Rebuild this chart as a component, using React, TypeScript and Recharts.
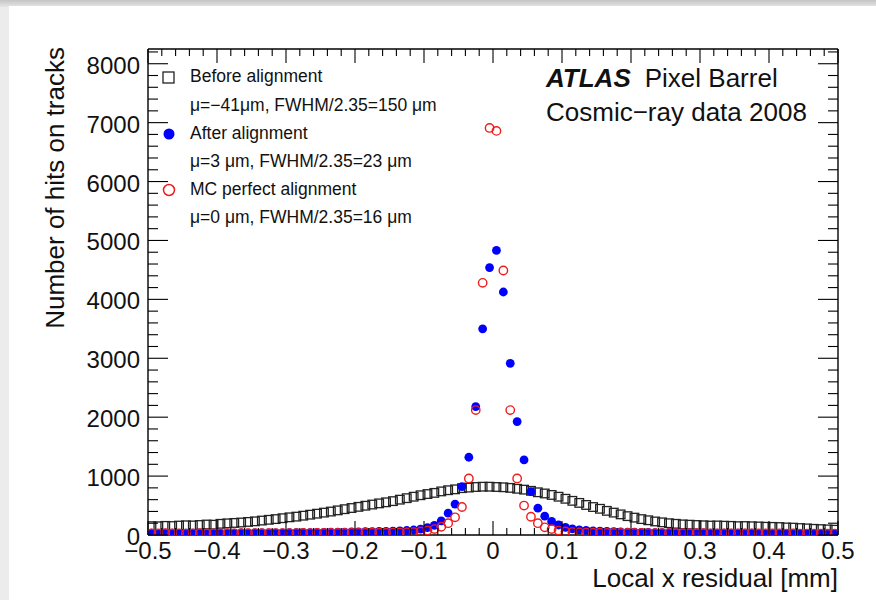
import React from 'react';
import { ScatterChart, Scatter, XAxis, YAxis } from 'recharts';

// ---- data (bin centres in mm, counts per bin) ----
const binCenters = [
  -0.495, -0.485, -0.475, -0.465, -0.455, -0.445, -0.435, -0.425, -0.415, -0.405,
  -0.395, -0.385, -0.375, -0.365, -0.355, -0.345, -0.335, -0.325, -0.315, -0.305,
  -0.295, -0.285, -0.275, -0.265, -0.255, -0.245, -0.235, -0.225, -0.215, -0.205,
  -0.195, -0.185, -0.175, -0.165, -0.155, -0.145, -0.135, -0.125, -0.115, -0.105,
  -0.095, -0.085, -0.075, -0.065, -0.055, -0.045, -0.035, -0.025, -0.015, -0.005,
  0.005, 0.015, 0.025, 0.035, 0.045, 0.055, 0.065, 0.075, 0.085, 0.095,
  0.105, 0.115, 0.125, 0.135, 0.145, 0.155, 0.165, 0.175, 0.185, 0.195,
  0.205, 0.215, 0.225, 0.235, 0.245, 0.255, 0.265, 0.275, 0.285, 0.295,
  0.305, 0.315, 0.325, 0.335, 0.345, 0.355, 0.365, 0.375, 0.385, 0.395,
  0.405, 0.415, 0.425, 0.435, 0.445, 0.455, 0.465, 0.475, 0.485, 0.495,
];

const beforeCounts = [
  150, 148, 155, 152, 160, 165, 162, 170, 178, 175,
  190, 198, 205, 212, 222, 232, 245, 258, 270, 285,
  300, 312, 328, 345, 362, 380, 398, 418, 438, 458,
  478, 497, 517, 537, 555, 575, 600, 625, 650, 675,
  695, 715, 740, 760, 775, 795, 805, 815, 820, 820,
  815, 810, 800, 785, 770, 750, 725, 705, 680, 650,
  615, 580, 545, 510, 475, 445, 410, 380, 350, 320,
  295, 270, 250, 230, 215, 200, 190, 180, 175, 170,
  165, 160, 162, 158, 155, 150, 152, 148, 145, 140,
  138, 135, 128, 125, 118, 112, 105, 100, 95, 90,
];

const afterCounts = [
  30, 28, 32, 30, 29, 31, 30, 33, 30, 32,
  31, 33, 32, 34, 33, 35, 34, 36, 35, 37,
  38, 40, 40, 42, 43, 45, 47, 48, 50, 52,
  54, 56, 58, 60, 63, 66, 70, 76, 85, 100,
  125, 165, 240, 370, 525, 820, 1320, 2180, 3500, 4540,
  4830, 4125, 2915, 1925, 1275, 735, 455, 320, 230, 170,
  130, 105, 88, 78, 70, 64, 60, 56, 53, 50,
  48, 46, 44, 42, 40, 39, 38, 37, 36, 35,
  34, 33, 33, 32, 31, 31, 30, 30, 29, 29,
  28, 28, 27, 27, 26, 26, 25, 25, 24, 24,
];

const mcCounts = [
  28, 26, 30, 27, 29, 25, 28, 30, 27, 29,
  28, 30, 29, 31, 30, 32, 31, 30, 33, 32,
  32, 33, 34, 33, 35, 34, 35, 36, 35, 37,
  37, 38, 38, 39, 40, 41, 42, 45, 50, 60,
  75, 100, 140, 200, 300, 475, 960, 2120, 4280, 6910,
  6860, 4490, 2120, 960, 500, 310, 200, 130, 100, 75,
  60, 50, 45, 41, 39, 38, 37, 36, 35, 35,
  34, 34, 33, 33, 32, 32, 31, 31, 30, 30,
  30, 29, 29, 28, 29, 28, 27, 28, 27, 26,
  27, 26, 25, 26, 25, 24, 25, 24, 23, 24,
];

// ---- ticks ----
const xMajorTicks = [-0.5, -0.4, -0.3, -0.2, -0.1, 0, 0.1, 0.2, 0.3, 0.4, 0.5];
const xTickLabels = ['\u22120.5', '\u22120.4', '\u22120.3', '\u22120.2', '\u22120.1', '0', '0.1', '0.2', '0.3', '0.4', '0.5'];
const xMinorTicks = [
  -0.48, -0.46, -0.44, -0.42, -0.38, -0.36, -0.34, -0.32, -0.28, -0.26, -0.24, -0.22,
  -0.18, -0.16, -0.14, -0.12, -0.08, -0.06, -0.04, -0.02, 0.02, 0.04, 0.06, 0.08,
  0.12, 0.14, 0.16, 0.18, 0.22, 0.24, 0.26, 0.28, 0.32, 0.34, 0.36, 0.38,
  0.42, 0.44, 0.46, 0.48,
];
const yMajorTicks = [0, 1000, 2000, 3000, 4000, 5000, 6000, 7000, 8000];
const yTickLabels = ['0', '1000', '2000', '3000', '4000', '5000', '6000', '7000', '8000'];
const yMinorTicks = [
  200, 400, 600, 800, 1200, 1400, 1600, 1800, 2200, 2400, 2600, 2800,
  3200, 3400, 3600, 3800, 4200, 4400, 4600, 4800, 5200, 5400, 5600, 5800,
  6200, 6400, 6600, 6800, 7200, 7400, 7600, 7800, 8200,
];

const xAllTicks = [...xMajorTicks, ...xMinorTicks].sort((a, b) => a - b);
const yAllTicks = [...yMajorTicks, ...yMinorTicks].sort((a, b) => a - b);

const beforeData = binCenters.map((x, i) => ({ x, y: beforeCounts[i] }));
const afterData = binCenters.map((x, i) => ({ x, y: afterCounts[i] }));
const mcData = binCenters.map((x, i) => ({ x, y: mcCounts[i] }));

const FONT = '"Liberation Sans", Arial, Helvetica, sans-serif';
const TXT = '#111';

const majorIndex = (arr: number[], v: number) => arr.findIndex((m) => Math.abs(m - v) < 1e-9);

const BottomTick = (props: any) => {
  const { x, y, payload } = props;
  const idx = majorIndex(xMajorTicks, payload.value);
  const major = idx >= 0;
  return (
    <g>
      <line x1={x} x2={x} y1={y} y2={y - (major ? 14 : 7)} stroke="#000" strokeWidth={1.1} />
      {major && (
        <text x={x} y={y + 24} textAnchor="middle" fontSize={24} fontFamily={FONT} fill={TXT}>
          {xTickLabels[idx]}
        </text>
      )}
    </g>
  );
};

const TopTick = (props: any) => {
  const { x, y, payload } = props;
  const major = majorIndex(xMajorTicks, payload.value) >= 0;
  return <line x1={x} x2={x} y1={y} y2={y + (major ? 14 : 7)} stroke="#000" strokeWidth={1.1} />;
};

const LeftTick = (props: any) => {
  const { x, y, payload } = props;
  const idx = majorIndex(yMajorTicks, payload.value);
  const major = idx >= 0;
  return (
    <g>
      <line x1={x} x2={x + (major ? 20 : 10)} y1={y} y2={y} stroke="#000" strokeWidth={1.1} />
      {major && (
        <text x={x - 8} y={y + 10} textAnchor="end" fontSize={24} fontFamily={FONT} fill={TXT}>
          {yTickLabels[idx]}
        </text>
      )}
    </g>
  );
};

const RightTick = (props: any) => {
  const { x, y, payload } = props;
  const major = majorIndex(yMajorTicks, payload.value) >= 0;
  return <line x1={x} x2={x - (major ? 20 : 10)} y1={y} y2={y} stroke="#000" strokeWidth={1.1} />;
};

const SquareShape = (props: any) => {
  const { cx, cy } = props;
  if (cx == null || cy == null) return null;
  return <rect x={cx - 4.3} y={cy - 4.3} width={8.6} height={8.6} fill="none" stroke="#222" strokeWidth={1.3} />;
};
const DotShape = (props: any) => {
  const { cx, cy } = props;
  if (cx == null || cy == null) return null;
  return <circle cx={cx} cy={cy} r={4.4} fill="#0000ff" stroke="none" />;
};
const RingShape = (props: any) => {
  const { cx, cy } = props;
  if (cx == null || cy == null) return null;
  return <circle cx={cx} cy={cy} r={4.2} fill="none" stroke="#ee1c1c" strokeWidth={1.4} />;
};

const axisLine = { stroke: '#000', strokeWidth: 1.4 };

export default function App() {
  return (
    <div style={{ position: 'absolute', left: 0, top: 0, width: 876, height: 600, background: '#ececec', overflow: 'hidden' }}>
      <div style={{ position: 'absolute', left: 0, top: 0, width: 876, height: 7, background: 'linear-gradient(#c4c4c4, #e6e6e6)' }} />
      <div style={{ position: 'absolute', left: 9, top: 6, width: 867, height: 594, background: '#fff' }} />
      <div style={{ position: 'absolute', left: 0, top: 0 }}>
        <ScatterChart width={876} height={600} margin={{ top: 48, right: 37, bottom: 64, left: 147 }}>
          <XAxis
            xAxisId="bottom"
            type="number"
            dataKey="x"
            domain={[-0.5, 0.5]}
            allowDataOverflow
            ticks={xAllTicks}
            interval={0}
            height={1}
            tickSize={0}
            tickMargin={0}
            tickLine={false}
            axisLine={axisLine}
            tick={<BottomTick />}
          />
          <XAxis
            xAxisId="top"
            orientation="top"
            type="number"
            dataKey="x"
            domain={[-0.5, 0.5]}
            allowDataOverflow
            ticks={xAllTicks}
            interval={0}
            height={1}
            tickSize={0}
            tickMargin={0}
            tickLine={false}
            axisLine={axisLine}
            tick={<TopTick />}
          />
          <YAxis
            yAxisId="left"
            type="number"
            dataKey="y"
            domain={[0, 8250]}
            allowDataOverflow
            ticks={yAllTicks}
            interval={0}
            width={1}
            tickSize={0}
            tickMargin={0}
            tickLine={false}
            axisLine={axisLine}
            tick={<LeftTick />}
          />
          <YAxis
            yAxisId="right"
            orientation="right"
            type="number"
            dataKey="y"
            domain={[0, 8250]}
            allowDataOverflow
            ticks={yAllTicks}
            interval={0}
            width={1}
            tickSize={0}
            tickMargin={0}
            tickLine={false}
            axisLine={axisLine}
            tick={<RightTick />}
          />
          <Scatter xAxisId="bottom" yAxisId="left" data={beforeData} shape={<SquareShape />} isAnimationActive={false} />
          <Scatter xAxisId="bottom" yAxisId="left" data={afterData} shape={<DotShape />} isAnimationActive={false} />
          <Scatter xAxisId="bottom" yAxisId="left" data={mcData} shape={<RingShape />} isAnimationActive={false} />
          <Scatter xAxisId="top" yAxisId="right" data={[]} isAnimationActive={false} />
        </ScatterChart>
      </div>
      <svg width={876} height={600} style={{ position: 'absolute', left: 0, top: 0, pointerEvents: 'none' }}>
        <g fontFamily={FONT} fill={TXT}>
          {/* axis titles */}
          <text transform="translate(64,47) rotate(-90)" textAnchor="end" fontSize={26}>
            Number of hits on tracks
          </text>
          <text x={838} y={587} textAnchor="end" fontSize={26}>
            Local x residual [mm]
          </text>
          {/* legend */}
          <rect x={163} y={72} width={11} height={11} fill="none" stroke="#222" strokeWidth={1.3} />
          <text x={190} y={82} fontSize={17.5}>Before alignment</text>
          <text x={190} y={111} fontSize={17.5}>{'\u03bc=\u221241\u03bcm, FWHM/2.35=150 \u03bcm'}</text>
          <circle cx={169} cy={134} r={5.5} fill="#0000ff" />
          <text x={190} y={139} fontSize={17.5}>After alignment</text>
          <text x={190} y={167} fontSize={17.5}>{'\u03bc=3 \u03bcm, FWHM/2.35=23 \u03bcm'}</text>
          <circle cx={169} cy={190} r={5.5} fill="none" stroke="#ee1c1c" strokeWidth={1.5} />
          <text x={190} y={195} fontSize={17.5}>MC perfect alignment</text>
          <text x={190} y={223} fontSize={17.5}>{'\u03bc=0 \u03bcm, FWHM/2.35=16 \u03bcm'}</text>
          {/* ATLAS label */}
          <text x={546} y={87} fontSize={26}>
            <tspan fontWeight="bold" fontStyle="italic">ATLAS</tspan>
            <tspan dx={14}>Pixel Barrel</tspan>
          </text>
          <text x={546} y={121} fontSize={26}>{'Cosmic\u2212ray data 2008'}</text>
        </g>
      </svg>
    </div>
  );
}
